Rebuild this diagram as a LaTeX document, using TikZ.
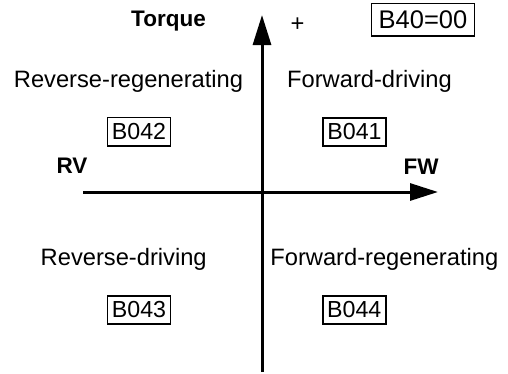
\documentclass[tikz,border=0pt]{standalone}
\usepackage{fontspec}
\setmainfont{Liberation Sans}
\usetikzlibrary{arrows.meta}
\tikzset{
  lbl/.style={anchor=base, inner sep=0pt, font=\fontsize{23.7}{28}\selectfont},
  blbl/.style={anchor=base, inner sep=0pt, font=\fontsize{22.5}{27}\selectfont\bfseries},
  codebox/.style={draw, line width=1.6pt, inner xsep=4.5pt, inner ysep=6pt, font=\fontsize{23.2}{28}\selectfont},
  axis/.style={line width=3pt},
}
\begin{document}
\begin{tikzpicture}[x=1pt,y=-1pt]
\useasboundingbox (0,0) rectangle (508,373);
% axes
\coordinate (ybot) at (262,372);
\coordinate (ytop) at (262,15);
\coordinate (xleft) at (83,192);
\coordinate (xright) at (438,192);
\draw[axis,-{Triangle[length=30pt,width=18pt]}] (ybot) -- (ytop);
\draw[axis,-{Triangle[length=28pt,width=17pt]}] (xleft) -- (xright);
% labels
\node[blbl] (torque) at (168.5,26.7) {Torque};
\node[lbl] (plus) at (297.5,31.6) {+};
\node[codebox, inner xsep=7pt, inner ysep=7pt, font=\fontsize{25.5}{30}\selectfont] (b40) at (423,19.7) {B40=00};
\node[lbl] (rr) at (128.5,87.3) {Reverse-regenerating};
\node[lbl] (fd) at (369.5,87.3) {Forward-driving};
\node[codebox] (b042) at (139,131.7) {B042};
\node[codebox] (b041) at (354.5,132) {B041};
\node[blbl] (rv) at (72,173.3) {RV};
\node[blbl] (fw) at (421,174) {FW};
\node[lbl] (rd) at (123.7,265) {Reverse-driving};
\node[lbl] (fr) at (384.3,265) {Forward-regenerating};
\node[codebox] (b043) at (139,310) {B043};
\node[codebox] (b044) at (354.3,310) {B044};
\end{tikzpicture}
\end{document}
